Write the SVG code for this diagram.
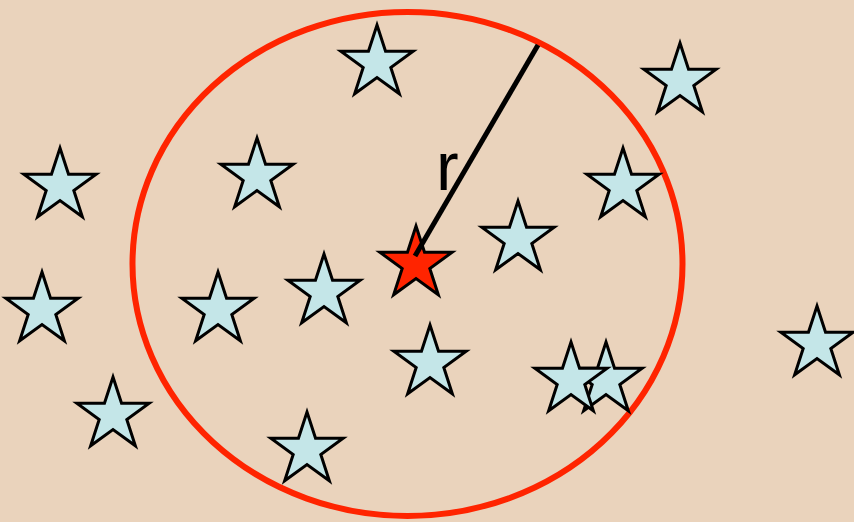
<svg xmlns="http://www.w3.org/2000/svg" xmlns:xlink="http://www.w3.org/1999/xlink" width="854" height="522" viewBox="0 0 854 522">
  <defs>
    <path id="star" d="M0,-38 L8.53,-11.75 L36.14,-11.74 L13.81,4.49 L22.34,30.74 L0,14.52 L-22.34,30.74 L-13.81,4.49 L-36.14,-11.74 L-8.53,-11.75 Z"/>
  </defs>
  <style>
    .bg { fill: #EAD3BC; }
    .circle { fill: none; stroke: #FF2400; stroke-width: 6; }
    .s { fill: #C4E6E8; stroke: #000; stroke-width: 3; stroke-linejoin: miter; }
    .red { fill: #FF2400; stroke: #000; stroke-width: 3; stroke-linejoin: miter; }
    .radius { stroke: #000; stroke-width: 5; fill: none; }
    .lbl { font-family: "Liberation Sans", Arial, sans-serif; font-size: 68px; fill: #000; }
  </style>
  <rect class="bg" x="0" y="0" width="854" height="522"/>
  <g id="neighbourhood">
    <ellipse class="circle" cx="407.5" cy="264" rx="275" ry="252"/>
  </g>
  <g id="star1"><use xlink:href="#star" class="s" transform="translate(377,63)"/></g>
  <g id="star2"><use xlink:href="#star" class="s" transform="translate(680,81)"/></g>
  <g id="star3"><use xlink:href="#star" class="s" transform="translate(60,186)"/></g>
  <g id="star4"><use xlink:href="#star" class="s" transform="translate(257,176)"/></g>
  <g id="star5"><use xlink:href="#star" class="s" transform="translate(623,186)"/></g>
  <g id="star6"><use xlink:href="#star" class="s" transform="translate(518,239)"/></g>
  <g id="star8"><use xlink:href="#star" class="s" transform="translate(324,292)"/></g>
  <g id="star9"><use xlink:href="#star" class="s" transform="translate(218,310)"/></g>
  <g id="star10"><use xlink:href="#star" class="s" transform="translate(42,310)"/></g>
  <g id="star11"><use xlink:href="#star" class="s" transform="translate(430,363)"/></g>
  <g id="star13"><use xlink:href="#star" class="s" transform="translate(606,380)"/></g>
  <g id="star12"><use xlink:href="#star" class="s" transform="translate(571,380)"/></g>
  <g id="star14"><use xlink:href="#star" class="s" transform="translate(817,344)"/></g>
  <g id="star15"><use xlink:href="#star" class="s" transform="translate(113,415)"/></g>
  <g id="star16"><use xlink:href="#star" class="s" transform="translate(307,450)"/></g>
  <g id="centre-star"><use xlink:href="#star" class="red" transform="translate(416,264)"/></g>
  <g id="connectors">
    <line class="radius" x1="415" y1="256" x2="538" y2="45"/>
  </g>
  <g id="label-r">
    <text class="lbl" x="436" y="190">r</text>
  </g>
</svg>
